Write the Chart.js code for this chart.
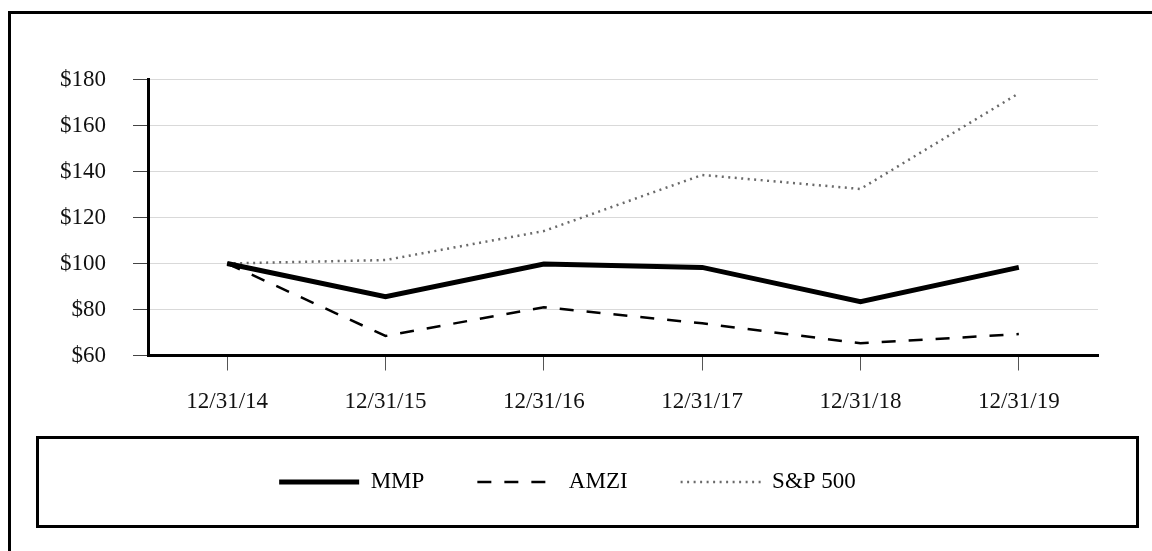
<!DOCTYPE html>
<html lang="en">
<head>
<meta charset="UTF-8">
<title>MMP / AMZI / S&amp;P 500</title>
<script src="https://cdn.jsdelivr.net/npm/chart.js"></script>
<style>
  html, body { margin: 0; padding: 0; background: #fff; overflow: hidden; }
  /* marco exterior: solo borde izquierdo y superior, el resto queda fuera de la imagen */
  #marco { position: absolute; left: 8px; top: 11px; right: 0; bottom: 0; border-left: 3px solid #000; border-top: 3px solid #000; }
  #contenedor { position: absolute; left: 0; top: 0; width: 1152px; height: 551px; }
</style>
</head>
<body>
<div id="marco"></div>
<div id="contenedor"><canvas id="grafico" width="1152" height="551"></canvas></div>
<script>
// Datos
const fechas = ['12/31/14', '12/31/15', '12/31/16', '12/31/17', '12/31/18', '12/31/19'];
const valoresMMP = [100, 85.6, 99.8, 98.3, 83.4, 98.3];
const valoresAMZI = [100, 68.5, 81, 74, 65.3, 69.3];
const valoresSP500 = [100, 101.5, 114.1, 138.5, 132.4, 174];
const ejeMin = 60;
const ejeMax = 180;
const ejePaso = 20;

const FUENTE = "'Liberation Serif', 'Times New Roman', serif";
const TAM_FUENTE = 23;
const PADDING_LEYENDA = 53;

// Caja alrededor de la leyenda
const cajaLeyenda = {
  id: 'cajaLeyenda',
  afterDraw(chart) {
    const leyenda = chart.legend;
    const centro = leyenda.top + PADDING_LEYENDA + TAM_FUENTE / 2;
    const ctx = chart.ctx;
    ctx.save();
    ctx.lineWidth = 3;
    ctx.strokeStyle = '#000';
    ctx.setLineDash([]);
    ctx.strokeRect(37.5, centro - 44.5, chart.width - 37.5 - 14.5, 89);
    ctx.restore();
  }
};

document.addEventListener('DOMContentLoaded', () => {
  Chart.defaults.font.family = FUENTE;
  Chart.defaults.color = '#111';

  const ctx = document.getElementById('grafico');
  new Chart(ctx, {
    type: 'line',
    data: {
      labels: fechas,
      datasets: [
        {
          label: 'MMP',
          data: valoresMMP,
          borderColor: '#000',
          backgroundColor: '#000',
          borderWidth: 5,
          pointRadius: 0,
          tension: 0
        },
        {
          label: 'AMZI',
          data: valoresAMZI,
          borderColor: '#000',
          backgroundColor: '#000',
          borderWidth: 2.5,
          borderDash: [14, 13],
          pointRadius: 0,
          tension: 0
        },
        {
          label: 'S&P 500',
          data: valoresSP500,
          borderColor: '#6a6a6a',
          backgroundColor: '#6a6a6a',
          borderWidth: 2.5,
          borderDash: [2, 4.5],
          pointRadius: 0,
          tension: 0
        }
      ]
    },
    options: {
      responsive: false,
      animation: false,
      layout: {
        padding: { top: 79.5, bottom: 47.5, left: 37, right: 54 }
      },
      scales: {
        x: {
          offset: true,
          grid: { offset: false, drawOnChartArea: false, tickLength: 15, tickColor: '#555' },
          border: { color: '#000', width: 3 },
          ticks: { padding: 18, color: '#111', font: { size: TAM_FUENTE }, maxRotation: 0, autoSkip: false },
          afterFit(eje) { eje.height = 62; }
        },
        y: {
          min: ejeMin,
          max: ejeMax,
          ticks: {
            stepSize: ejePaso,
            padding: 27,
            color: '#111',
            font: { size: TAM_FUENTE },
            callback: (v) => '$' + v
          },
          grid: { color: '#d9d9d9', lineWidth: 1, tickLength: 15, tickColor: '#444' },
          border: { color: '#000', width: 3 },
          afterFit(eje) { eje.width = 111; }
        }
      },
      plugins: {
        legend: {
          position: 'bottom',
          labels: {
            usePointStyle: true,
            pointStyle: 'line',
            pointStyleWidth: 80,
            padding: PADDING_LEYENDA,
            color: '#000',
            font: { size: TAM_FUENTE },
            // copiar el trazo (guiones, grosor) de cada serie a la leyenda
            generateLabels(chart) {
              const items = Chart.defaults.plugins.legend.labels.generateLabels(chart);
              items.forEach(item => {
                const ds = chart.data.datasets[item.datasetIndex];
                item.lineDash = ds.borderDash || [];
                item.lineWidth = ds.borderWidth;
                item.strokeStyle = ds.borderColor;
                item.fillStyle = ds.borderColor;
              });
              return items;
            }
          }
        },
        tooltip: { enabled: false }
      }
    },
    plugins: [cajaLeyenda]
  });
});
</script>
</body>
</html>
